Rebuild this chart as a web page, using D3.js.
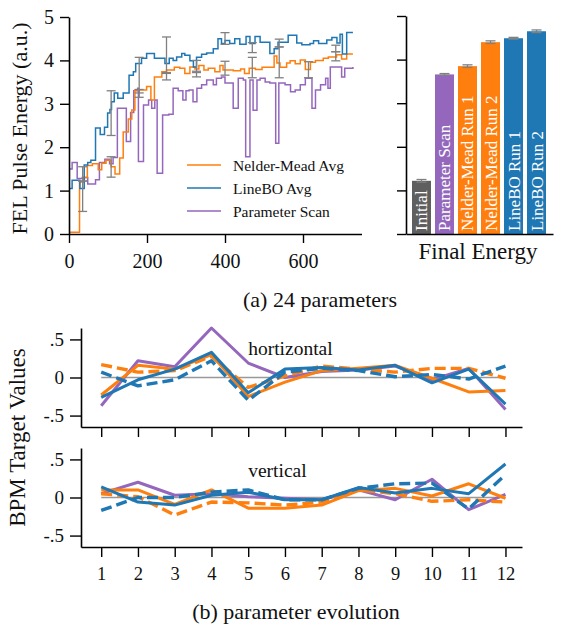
<!DOCTYPE html>
<html>
<head>
<meta charset="utf-8">
<script src="https://cdn.jsdelivr.net/npm/d3@7"></script>
<style>
  body { margin: 0; background: #fff; }
  svg text { font-family: "Liberation Serif", "DejaVu Serif", serif; }
</style>
</head>
<body>
<div id="wrapper"></div>
<script>
// ---- DATA ----
// energy traces, change points [evaluation, FEL energy]
const nelderMeadAvg = [[0,0.04],[27,1.2],[38,1.3],[47,1.58],[60,1.62],[75,1.48],[84,1.63],[95,1.7],[108,1.55],[118,1.38],[130,1.75],[139,2.35],[152,2.65],[161,2.86],[169,3.32],[199,3.4],[210,3.09],[219,3.62],[238,3.74],[250,3.78],[270,3.84],[284,3.82],[297,3.7],[310,3.85],[323,3.8],[333,3.88],[346,3.78],[357,3.82],[374,3.74],[387,3.88],[395,3.78],[421,3.76],[440,3.8],[450,3.7],[462,3.82],[478,3.79],[495,3.84],[526,4.1],[533,3.94],[541,3.84],[558,3.94],[567,3.99],[580,3.92],[593,4.01],[606,3.79],[619,3.96],[632,4.0],[652,4.05],[665,4.08],[686,4.13],[699,4.03],[712,4.15],[728,4.15]]
const lineBOAvg = [[0,1.05],[8,1.24],[28,1.05],[39,1.59],[48,1.65],[56,1.7],[68,2.44],[80,2.29],[91,2.46],[99,2.79],[105,2.87],[109,3.05],[116,3.25],[125,3.13],[139,3.25],[154,3.66],[165,3.74],[171,3.93],[186,4.05],[199,4.16],[219,4.05],[233,4.05],[246,3.93],[257,4.05],[267,4.0],[276,4.08],[289,4.16],[297,4.12],[310,3.99],[319,3.85],[327,4.07],[340,4.14],[353,4.17],[370,4.27],[382,4.5],[391,4.39],[400,4.46],[412,4.39],[425,4.5],[438,4.37],[454,4.55],[464,4.39],[477,4.55],[490,4.42],[515,4.16],[526,4.27],[536,4.42],[562,4.58],[584,4.4],[597,4.36],[618,4.39],[627,4.45],[640,4.39],[661,4.47],[674,4.53],[687,4.4],[695,4.6],[701,4.15],[712,4.64],[728,4.64]]
const parameterScan = [[0,1.5],[8,1.65],[21,1.28],[34,1.3],[48,1.15],[68,1.25],[78,1.65],[92,1.72],[104,1.62],[113,1.76],[124,2.9],[147,2.13],[158,2.8],[166,3.3],[176,3.36],[178,1.67],[191,2.97],[204,3.09],[212,2.9],[220,3.09],[226,1.4],[240,2.74],[256,2.76],[267,3.36],[280,3.3],[292,3.09],[300,3.3],[308,3.32],[318,3.05],[328,3.36],[340,3.44],[353,3.55],[370,3.44],[378,3.59],[391,3.62],[400,3.48],[421,2.9],[434,3.59],[447,3.55],[453,1.78],[464,3.55],[472,2.85],[482,3.55],[490,3.59],[503,3.5],[515,3.48],[530,2.09],[538,3.48],[554,3.44],[568,3.28],[580,3.32],[593,3.44],[606,3.59],[623,2.9],[632,3.32],[645,3.44],[658,3.59],[664,3.36],[670,3.85],[699,3.62],[707,3.82],[728,3.85]]

// error bars on the traces
const errX  = [35, 35, 108, 108, 180, 180, 250, 250, 327, 327, 400, 400, 470, 470, 539, 539, 614, 684, 684]
const errLo = [0.52, 1.22, 2.27, 1.31, 3.25, 3.15, 3.7, 3.55, 3.72, 3.62, 4.37, 3.66, 4.18, 3.6, 3.6, 4.31, 3.6, 4.2, 3.99]
const errHi = [1.22, 1.55, 3.3, 1.78, 4.07, 3.33, 4.54, 3.72, 4.0, 3.75, 4.64, 3.98, 4.41, 4.07, 4.31, 4.49, 3.97, 4.35, 4.2]

// final energy bars
const finalLabels = ["Initial", "Parameter Scan", "Nelder-Mead Run 1", "Nelder-Mead Run 2", "LineBO Run 1", "LineBO Run 2"]
const finalValues = [1.22, 3.66, 3.85, 4.4, 4.49, 4.65]
const finalErrors = [0.03, 0.02, 0.03, 0.03, 0.02, 0.03]
const finalColors = ["#5f5f5f", "#9467bd", "#ff7f0e", "#ff7f0e", "#1f77b4", "#1f77b4"]

// BPM target values, parameters 1..12
const bpmIndex = [1,2,3,4,5,6,7,8,9,10,11,12]
const horNM1   = [-0.23, 0.16, 0.11, 0.30, -0.25, -0.06, 0.09, 0.12, 0.16, -0.01, -0.19, -0.17]
const horNM2   = [0.17, 0.07, 0.09, 0.28, -0.13, 0.02, 0.15, 0.11, 0.07, 0.12, 0.12, -0.01]
const horLBO1  = [-0.26, -0.03, 0.11, 0.33, -0.2, 0.11, 0.13, 0.10, 0.16, -0.07, 0.11, -0.35]
const horLBO2  = [0.07, -0.11, -0.03, 0.22, -0.30, 0.07, 0.12, 0.09, 0.01, 0.04, -0.02, 0.15]
const horScan  = [-0.37, 0.22, 0.14, 0.65, 0.19, 0.0, 0.08, 0.10, 0.15, -0.03, 0.12, -0.42]
const verNM1   = [0.1, 0.1, -0.09, 0.1, -0.14, -0.14, -0.1, 0.09, 0.12, 0.02, 0.18, -0.01]
const verNM2   = [0.05, 0.01, -0.23, -0.06, -0.07, -0.1, -0.06, 0.1, 0.05, -0.05, -0.03, -0.06]
const verLBO1  = [0.14, -0.06, -0.1, 0.03, 0.07, -0.03, -0.03, 0.13, 0.06, 0.12, 0.05, 0.44]
const verLBO2  = [-0.17, 0.0, 0.0, 0.07, 0.1, -0.03, -0.03, 0.12, 0.18, 0.19, -0.15, 0.3]
const verScan  = [0.05, 0.2, 0.03, 0.05, 0.01, -0.01, -0.03, 0.1, -0.03, 0.24, -0.16, 0.04]
const bpmTicks = [-0.5, 0, 0.5]

const orange = "#ff7f0e", blue = "#1f77b4", purple = "#9467bd", errGray = "#808080"

// ---- CANVAS ----
const svg = d3.select("#wrapper").append("svg")
  .attr("width", 568)
  .attr("height", 628)

const styleAxis = (g, fontSize) => {
  g.select(".domain").attr("stroke", "#000").attr("stroke-width", 1.6)
  g.selectAll(".tick line").attr("stroke", "#000").attr("stroke-width", 1.4)
  g.selectAll(".tick text")
    .style("font-family", '"Liberation Serif", serif')
    .style("font-size", fontSize + "px")
    .attr("fill", "#111")
}

// ---- (a) ENERGY TRACES ----
const xE = d3.scaleLinear().domain([0, 750]).range([69, 361.5])
const yE = d3.scaleLinear().domain([0, 5]).range([234, 17])

const stepLine = d3.line()
  .x(d => xE(d[0]))
  .y(d => yE(d[1]))
  .curve(d3.curveStepAfter)

const traces = [
  {data: parameterScan, color: purple},
  {data: nelderMeadAvg, color: orange},
  {data: lineBOAvg, color: blue},
]
svg.append("g").selectAll("path")
  .data(traces)
  .join("path")
    .attr("d", d => stepLine(d.data))
    .attr("fill", "none")
    .attr("stroke", d => d.color)
    .attr("stroke-width", 1.5)

const errs = svg.append("g")
  .attr("stroke", errGray)
  .attr("stroke-width", 1.3)
  .selectAll("g")
  .data(errX.map((x, i) => ({x, lo: errLo[i], hi: errHi[i]})))
  .join("g")
errs.append("line")
  .attr("x1", d => xE(d.x)).attr("x2", d => xE(d.x))
  .attr("y1", d => yE(d.lo)).attr("y2", d => yE(d.hi))
errs.selectAll(".cap")
  .data(d => [{x: d.x, v: d.lo}, {x: d.x, v: d.hi}])
  .join("line")
    .attr("class", "cap")
    .attr("x1", d => xE(d.x) - 4.5).attr("x2", d => xE(d.x) + 4.5)
    .attr("y1", d => yE(d.v)).attr("y2", d => yE(d.v))

svg.append("g")
  .attr("transform", `translate(0,${yE(0)})`)
  .call(d3.axisBottom(xE).tickValues([0, 200, 400, 600]).tickSize(9).tickPadding(11).tickSizeOuter(0))
  .call(g => styleAxis(g, 20))

svg.append("g")
  .attr("transform", `translate(${xE(0)},0)`)
  .call(d3.axisLeft(yE).ticks(5).tickSize(9).tickPadding(6).tickSizeOuter(0))
  .call(g => styleAxis(g, 20))

svg.append("text")
  .attr("transform", `translate(27,${(yE(0) + yE(5)) / 2 + 3}) rotate(-90)`)
  .attr("text-anchor", "middle")
  .style("font-size", "22px")
  .attr("fill", "#111")
  .text("FEL Pulse Energy (a.u.)")

// legend
const legendItems = [
  {label: "Nelder-Mead Avg", color: orange},
  {label: "LineBO Avg", color: blue},
  {label: "Parameter Scan", color: purple},
]
const legend = svg.append("g").attr("transform", "translate(187,165)")
const legendRows = legend.selectAll("g")
  .data(legendItems)
  .join("g")
    .attr("transform", (d, i) => `translate(0,${i * 23})`)
legendRows.append("line")
  .attr("x1", 0).attr("x2", 34)
  .attr("stroke", d => d.color)
  .attr("stroke-width", 1.5)
legendRows.append("text")
  .attr("x", 46).attr("y", 5.5)
  .style("font-size", "15.5px")
  .attr("fill", "#111")
  .text(d => d.label)

// ---- FINAL ENERGY BARS ----
const xB = d3.scaleBand()
  .domain(finalLabels)
  .range([409.7, 548.3])
  .paddingInner(0.174)
  .paddingOuter(0.1)
const yB = d3.scaleLinear().domain([0, 5]).range([234, 16])

svg.append("g").selectAll("rect")
  .data(finalLabels)
  .join("rect")
    .attr("x", d => xB(d))
    .attr("width", xB.bandwidth())
    .attr("y", (d, i) => yB(finalValues[i]))
    .attr("height", (d, i) => yB(0) - yB(finalValues[i]))
    .attr("fill", (d, i) => finalColors[i])

const barErr = svg.append("g")
  .attr("stroke", errGray)
  .attr("stroke-width", 1.3)
  .selectAll("g")
  .data(finalLabels)
  .join("g")
barErr.append("line")
  .attr("x1", d => xB(d) + xB.bandwidth() / 2).attr("x2", d => xB(d) + xB.bandwidth() / 2)
  .attr("y1", (d, i) => yB(finalValues[i] - finalErrors[i]))
  .attr("y2", (d, i) => yB(finalValues[i] + finalErrors[i]))
barErr.selectAll(".cap")
  .data((d, i) => [finalValues[i] - finalErrors[i], finalValues[i] + finalErrors[i]].map(v => ({d, v})))
  .join("line")
    .attr("x1", e => xB(e.d) + xB.bandwidth() / 2 - 5)
    .attr("x2", e => xB(e.d) + xB.bandwidth() / 2 + 5)
    .attr("y1", e => yB(e.v)).attr("y2", e => yB(e.v))

svg.append("g").selectAll("text")
  .data(finalLabels)
  .join("text")
    .attr("transform", d => `translate(${xB(d) + xB.bandwidth() / 2 + 6},${yB(0) - 3}) rotate(-90)`)
    .style("font-size", "17px")
    .attr("fill", "#fff")
    .text(d => d)

svg.append("g")
  .attr("transform", `translate(0,${yB(0)})`)
  .call(d3.axisBottom(d3.scaleLinear().range([406, 553])).tickValues([]).tickSizeOuter(0))
  .call(g => styleAxis(g, 20))

svg.append("g")
  .attr("transform", "translate(406,0)")
  .call(d3.axisLeft(yB).ticks(5).tickSize(9).tickFormat("").tickSizeOuter(0))
  .call(g => styleAxis(g, 20))

svg.append("text")
  .attr("x", 478).attr("y", 259)
  .attr("text-anchor", "middle")
  .style("font-size", "23px")
  .attr("fill", "#111")
  .text("Final Energy")

svg.append("text")
  .attr("x", 320).attr("y", 307)
  .attr("text-anchor", "middle")
  .style("font-size", "22px")
  .attr("fill", "#111")
  .text("(a) 24 parameters")

// ---- (b) PARAMETER EVOLUTION ----
const xP = d3.scaleLinear().domain([0.45, 12.45]).range([81, 522])

const panels = [
  {top: 328, bottom: 427, label: "hortizontal", labelY: 0.3, showX: false,
   series: [
     {v: horScan, color: purple, dash: false},
     {v: horNM1, color: orange, dash: false},
     {v: horNM2, color: orange, dash: true},
     {v: horLBO1, color: blue, dash: false},
     {v: horLBO2, color: blue, dash: true},
   ]},
  {top: 448, bottom: 547, label: "vertical", labelY: 0.27, showX: true,
   series: [
     {v: verScan, color: purple, dash: false},
     {v: verNM1, color: orange, dash: false},
     {v: verNM2, color: orange, dash: true},
     {v: verLBO1, color: blue, dash: false},
     {v: verLBO2, color: blue, dash: true},
   ]},
]

panels.forEach(p => {
  const yP = d3.scaleLinear().domain([-0.65, 0.65]).range([p.bottom, p.top])
  const g = svg.append("g")

  g.append("line")
    .attr("x1", xP(1)).attr("x2", xP(12))
    .attr("y1", yP(0)).attr("y2", yP(0))
    .attr("stroke", "#999")
    .attr("stroke-width", 1.5)

  const line = d3.line()
    .x((d, i) => xP(bpmIndex[i]))
    .y(d => yP(d))

  g.selectAll(".bpm")
    .data(p.series)
    .join("path")
      .attr("class", "bpm")
      .attr("d", d => line(d.v))
      .attr("fill", "none")
      .attr("stroke", d => d.color)
      .attr("stroke-width", d => d.dash ? 3.4 : 3)
      .attr("stroke-dasharray", d => d.dash ? "11,5" : null)
      .attr("stroke-linejoin", "round")

  g.append("text")
    .attr("x", xP(5)).attr("y", yP(p.labelY))
    .style("font-size", "19.5px")
    .attr("fill", "#111")
    .text(p.label)

  const xAxis = d3.axisBottom(xP).tickValues(bpmIndex).tickSize(10).tickPadding(10).tickSizeOuter(0)
  if (!p.showX) xAxis.tickFormat("")
  g.append("g")
    .attr("transform", `translate(0,${p.bottom})`)
    .call(xAxis)
    .call(a => styleAxis(a, 18.5))

  g.append("g")
    .attr("transform", `translate(${xP.range()[0]},0)`)
    .call(d3.axisLeft(yP).tickValues(bpmTicks).tickSize(11).tickPadding(6).tickSizeOuter(0)
      .tickFormat(d => d === 0 ? "0" : (d < 0 ? "-" : "") + ".5"))
    .call(a => styleAxis(a, 19))
})

svg.append("text")
  .attr("transform", "translate(25,437.5) rotate(-90)")
  .attr("text-anchor", "middle")
  .style("font-size", "23px")
  .attr("fill", "#111")
  .text("BPM Target Values")

svg.append("text")
  .attr("x", 296).attr("y", 619)
  .attr("text-anchor", "middle")
  .style("font-size", "22px")
  .attr("fill", "#111")
  .text("(b) parameter evolution")
</script>
</body>
</html>
